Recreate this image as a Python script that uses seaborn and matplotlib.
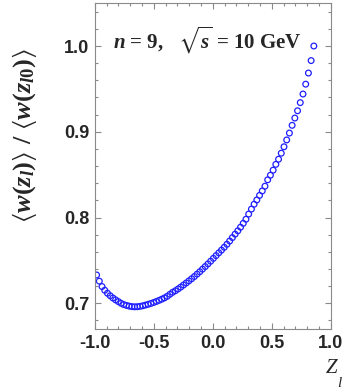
import matplotlib
matplotlib.use("Agg")
import matplotlib.pyplot as plt
import seaborn as sns
from matplotlib.ticker import MultipleLocator

# z_l values and ratio <w(z_l)>/<w(z_l0)>
z_l = [-0.984, -0.961, -0.938, -0.915, -0.892, -0.869, -0.846, -0.823, -0.800, -0.777,
       -0.754, -0.731, -0.708, -0.685, -0.662, -0.639, -0.616, -0.593, -0.570, -0.547,
       -0.524, -0.501, -0.478, -0.455, -0.432, -0.409, -0.386, -0.363, -0.340, -0.317,
       -0.294, -0.271, -0.248, -0.225, -0.202, -0.179, -0.156, -0.133, -0.110, -0.087,
       -0.064, -0.041, -0.018, 0.005, 0.028, 0.051, 0.074, 0.097, 0.120, 0.143,
       0.166, 0.189, 0.212, 0.235, 0.258, 0.281, 0.304, 0.327, 0.350, 0.373,
       0.396, 0.419, 0.442, 0.465, 0.488, 0.511, 0.534, 0.557, 0.580, 0.603,
       0.626, 0.649, 0.672, 0.695, 0.718, 0.741, 0.764, 0.787, 0.810, 0.833,
       0.856]
ratio = [0.7330, 0.7258, 0.7195, 0.7152, 0.7117, 0.7088, 0.7062, 0.7040, 0.7020, 0.7000,
         0.6985, 0.6975, 0.6967, 0.6961, 0.6959, 0.6960, 0.6964, 0.6971, 0.6979, 0.6988,
         0.6998, 0.7009, 0.7021, 0.7034, 0.7048, 0.7063, 0.7081, 0.7105, 0.7128, 0.7146,
         0.7167, 0.7189, 0.7213, 0.7237, 0.7261, 0.7286, 0.7312, 0.7340, 0.7368, 0.7398,
         0.7428, 0.7459, 0.7491, 0.7524, 0.7556, 0.7588, 0.7620, 0.7653, 0.7688, 0.7726,
         0.7766, 0.7806, 0.7845, 0.7887, 0.7932, 0.7980, 0.8040, 0.8098, 0.8155, 0.8205,
         0.8258, 0.8310, 0.8365, 0.8440, 0.8493, 0.8552, 0.8620, 0.8680, 0.8750, 0.8825,
         0.8905, 0.8985, 0.9075, 0.9160, 0.9245, 0.9340, 0.9440, 0.9555, 0.9685, 0.9830,
         1.0000]

sns.set_style("ticks")
plt.rcParams['font.family'] = ['Liberation Sans', 'DejaVu Sans']
plt.rcParams['mathtext.fontset'] = 'custom'
plt.rcParams['mathtext.rm'] = 'Liberation Serif:bold'
plt.rcParams['mathtext.it'] = 'Liberation Serif:italic:bold'
plt.rcParams['mathtext.bf'] = 'Liberation Serif:bold'
plt.rcParams['mathtext.fallback'] = 'stix'

fig = plt.figure(figsize=(3.45, 3.92), dpi=100)
ax = fig.add_axes([0.2745, 0.1607, 0.6845, 0.8313])

sns.scatterplot(x=z_l, y=ratio, ax=ax, marker='o', s=17, facecolor='none',
                edgecolor='#1f1fff', linewidth=0.9, legend=False)

ax.set_xlim(-1.0, 1.0)
ax.set_ylim(0.67, 1.05)
ax.xaxis.set_major_locator(MultipleLocator(0.5))
ax.xaxis.set_minor_locator(MultipleLocator(0.1))
ax.yaxis.set_major_locator(MultipleLocator(0.1))
ax.yaxis.set_minor_locator(MultipleLocator(0.02))
ax.xaxis.set_major_formatter(plt.FuncFormatter(lambda v, p: f'{v:.1f}'))
ax.yaxis.set_major_formatter(plt.FuncFormatter(lambda v, p: f'{v:.1f}'))

for s in ax.spines.values():
    s.set_color('#8a8a8a')
    s.set_linewidth(0.8)
ax.tick_params(which='both', direction='in', top=True, right=True, color='#8a8a8a', width=0.8)
ax.tick_params(which='major', length=4, labelsize=13, pad=4)
ax.tick_params(which='minor', length=2.5)
for lab in ax.get_xticklabels() + ax.get_yticklabels():
    lab.set_fontweight('bold')

ax.text(0.475, 0.885, r'$n$ = 9,   $\sqrt{s}$ = 10 GeV', transform=ax.transAxes,
        ha='center', va='center', fontsize=15, family='Liberation Serif', fontweight='bold')

fig.text(0.07, 0.655, r'$\langle w(z_l)\rangle\ /\ \langle w(z_{l0})\rangle$',
         rotation=90, ha='center', va='center', fontsize=19)

fig.text(0.96, 0.06, 'Z', family='Liberation Serif', style='italic', fontsize=15,
         ha='center', va='center')
fig.text(0.983, 0.022, 'l', family='Liberation Serif', style='italic', fontsize=11,
         ha='center', va='center')

fig.savefig('out.png', dpi=100)
